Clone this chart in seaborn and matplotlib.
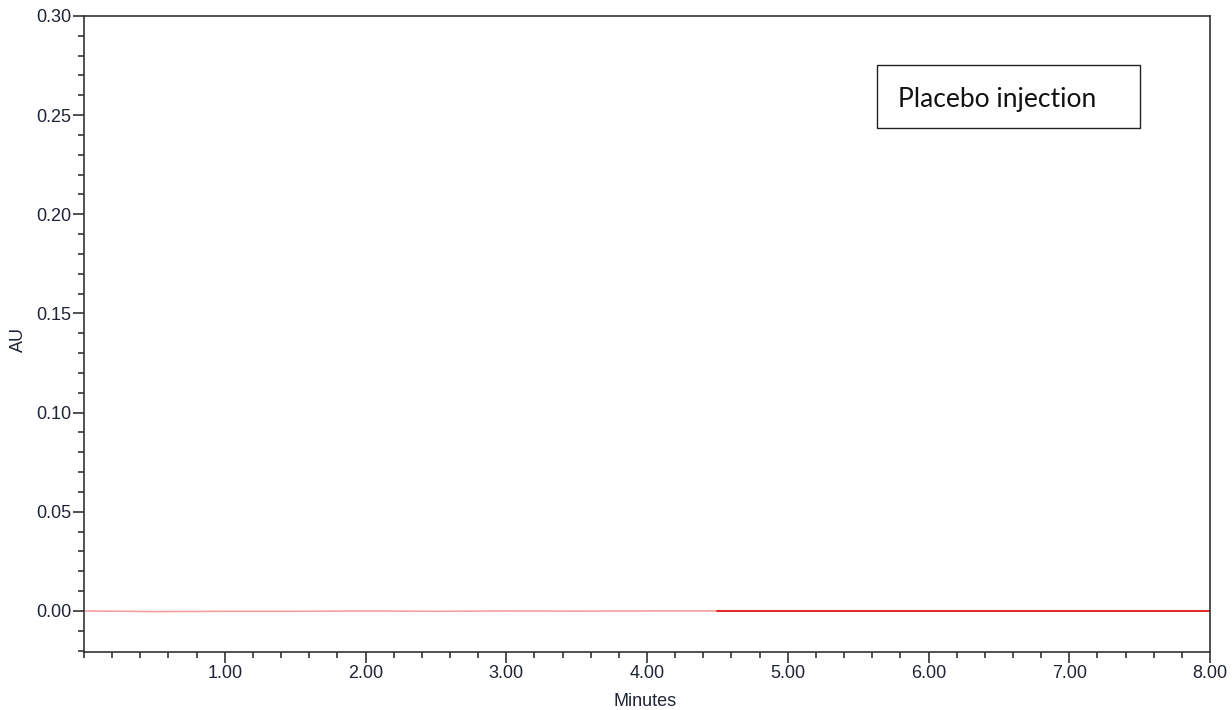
import matplotlib
matplotlib.use("Agg")
import matplotlib.pyplot as plt
from matplotlib.patches import Rectangle
from matplotlib.ticker import MultipleLocator, FormatStrFormatter
import seaborn as sns
import pandas as pd

# Chromatogram trace (minutes, AU) - flat baseline of a placebo injection
minutes = [0.0, 0.5, 1.0, 1.5, 2.0, 2.5, 3.0, 3.5, 4.0, 4.5, 5.0, 5.5, 6.0, 6.5, 7.0, 7.5, 8.0]
au = [0.0, -0.0003, -0.0002, -0.0002, 0.0, -0.0002, 0.0, -0.0001, 0.0, 0.0,
      0.0, 0.0, 0.0, 0.0, 0.0, 0.0, 0.0]
box_text = "Placebo injection"

df = pd.DataFrame({"Minutes": minutes, "AU": au})
# overlap so segments join
df_early = df[df["Minutes"] <= 4.5]
df_late = df[df["Minutes"] >= 4.5]

sns.set_style("white")
plt.rcParams["font.family"] = ["Liberation Sans", "DejaVu Sans"]

fig = plt.figure(figsize=(12.32, 7.10), dpi=100)
ax = fig.add_axes([84 / 1232, 1 - 652 / 710, (1210 - 84) / 1232, (652 - 16) / 710])

sns.lineplot(data=df_early, x="Minutes", y="AU", color="#f4a0a0", linewidth=1.2, ax=ax)
sns.lineplot(data=df_late, x="Minutes", y="AU", color="#e00000", linewidth=1.2, ax=ax)

ax.set_xlim(0, 8)
ax.set_ylim(-0.0207, 0.30)
ax.xaxis.set_minor_locator(MultipleLocator(0.2))
ax.yaxis.set_minor_locator(MultipleLocator(0.01))
ax.set_xticks([1, 2, 3, 4, 5, 6, 7, 8])
ax.set_yticks([0.0, 0.05, 0.10, 0.15, 0.20, 0.25, 0.30])
ax.xaxis.set_major_formatter(FormatStrFormatter("%.2f"))
ax.yaxis.set_major_formatter(FormatStrFormatter("%.2f"))

txt_col = "#1c2436"
ax.tick_params(axis="both", which="major", direction="out", length=8, width=1.2,
               color="#333333", labelsize=13, labelcolor=txt_col, pad=1)
ax.tick_params(axis="both", which="minor", direction="out", length=4.5, width=1.2,
               color="#333333")
ax.tick_params(axis="x", which="both", bottom=True)
ax.tick_params(axis="y", which="both", left=True)

for side in ["left", "bottom", "top", "right"]:
    ax.spines[side].set_visible(True)
    ax.spines[side].set_color("#333333")
    ax.spines[side].set_linewidth(1.2)

ax.set_xlabel("Minutes", fontsize=13, color=txt_col, va="center")
ax.set_ylabel("AU", fontsize=13, color=txt_col, va="center")
ax.xaxis.set_label_coords((645 - 84) / 1126, (652 - 702) / 636)
ax.yaxis.set_label_coords((18 - 84) / 1126, (652 - 340) / 636)

fig.patches.append(Rectangle((877 / 1232, 1 - 128 / 710), 263 / 1232, 63 / 710,
                             transform=fig.transFigure, fill=False,
                             edgecolor="#222222", linewidth=1.0))
fig.text(898 / 1232, 1 - 99 / 710, box_text, fontsize=19, family=["Lato", "DejaVu Sans"],
         va="center", ha="left", color="#111111")

fig.savefig("out.png", dpi=100)
